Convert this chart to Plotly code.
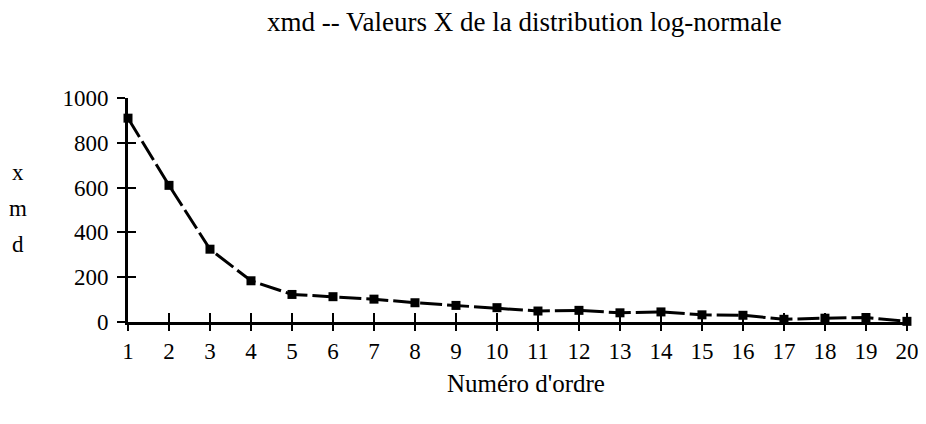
import plotly.graph_objects as go

order = list(range(1, 21))
xmd = [910, 610, 325, 184, 123, 113, 102, 86, 74, 64, 49, 52, 41, 45, 32, 30, 12, 17, 20, 3]
y_ticks = [0, 200, 400, 600, 800, 1000]
y_label_letters = ["x", "m", "d"]

FONT = "Liberation Serif"
W, H = 926, 424
L, R, T, B = 120, 25, 90, 110
PW, PH = W - L - R, H - T - B

fig = go.Figure()
fig.add_trace(go.Scatter(
    x=order, y=xmd, mode="lines+markers",
    line=dict(color="black", width=3, dash="22px,5px"),
    marker=dict(symbol="square", size=9, color="black"),
    cliponaxis=False, showlegend=False,
))
fig.add_trace(go.Scatter(x=order, y=xmd, xaxis="x2", yaxis="y2",
                         mode="markers", marker=dict(opacity=0),
                         hoverinfo="skip", showlegend=False))

annotations = []
for i, ch in enumerate(y_label_letters):
    ypix = 164 + 36 * i
    annotations.append(dict(text=ch, xref="paper", yref="paper",
                            x=(10 - L) / PW, y=(T + PH - ypix) / PH,
                            showarrow=False, xanchor="center", yanchor="middle",
                            font=dict(family=FONT, size=23, color="black")))
annotations.append(dict(text="Numéro d'ordre", xref="paper", yref="paper",
                        x=(518 - L) / PW, y=(T + PH - 375) / PH,
                        showarrow=False, xanchor="center", yanchor="middle",
                        font=dict(family=FONT, size=25, color="black")))
annotations.append(dict(text="xmd -- Valeurs X de la distribution log-normale",
                        xref="paper", yref="paper",
                        x=(516 - L) / PW, y=(T + PH - 14) / PH,
                        showarrow=False, xanchor="center", yanchor="middle",
                        font=dict(family=FONT, size=27, color="black")))

fig.update_layout(
    width=W, height=H,
    margin=dict(l=L, r=R, t=T, b=B),
    paper_bgcolor="white", plot_bgcolor="white",
    font=dict(family=FONT, color="black"),
    xaxis=dict(range=[1, 20.05], tickmode="array", tickvals=order,
               ticks="outside", ticklen=6, tickwidth=2, tickcolor="black",
               showline=True, linecolor="black", linewidth=3,
               showgrid=False, zeroline=False,
               tickfont=dict(family=FONT, size=23)),
    yaxis=dict(range=[0, 1000], tickmode="array", tickvals=y_ticks,
               ticks="outside", ticklen=8, tickwidth=2, tickcolor="black",
               showline=True, linecolor="black", linewidth=3,
               showgrid=False, zeroline=False, ticklabelstandoff=4,
               tickfont=dict(family=FONT, size=23)),
    xaxis2=dict(range=[1, 20.05], overlaying="x",
                tickmode="array", tickvals=order, ticks="inside", ticklen=9,
                tickwidth=2, tickcolor="black", showticklabels=False,
                showgrid=False, zeroline=False, showline=False, side="bottom"),
    yaxis2=dict(range=[0, 1000], overlaying="y",
                tickmode="array", tickvals=y_ticks, ticks="inside", ticklen=8,
                tickwidth=2, tickcolor="black", showticklabels=False,
                showgrid=False, zeroline=False, showline=False, side="left"),
    annotations=annotations,
)

fig.write_html("out.html")
